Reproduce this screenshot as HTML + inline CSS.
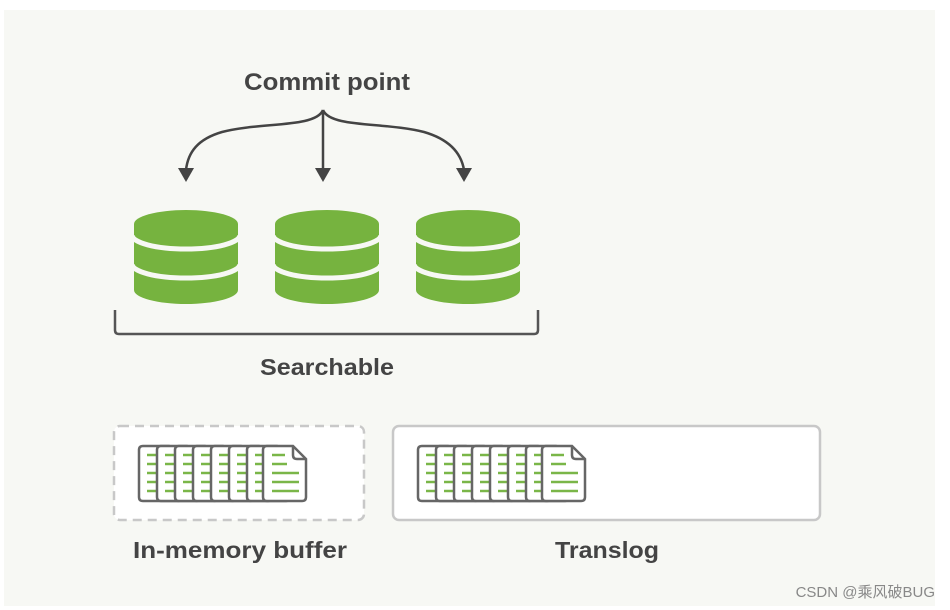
<!DOCTYPE html>
<html><head><meta charset="utf-8"><style>
html,body{margin:0;padding:0;background:#fff;}
svg{display:block;}
text{font-family:"Liberation Sans","Noto Sans CJK SC",sans-serif;}
</style></head><body>
<svg width="950" height="610" viewBox="0 0 950 610" xmlns="http://www.w3.org/2000/svg">
<defs>
<g id="doc">
<path d="M4,0 H30 L43,13 V51 Q43,55 39,55 H4 Q0,55 0,51 V4 Q0,0 4,0 Z" fill="#fff" stroke="#666" stroke-width="2.5"/>
<g stroke="#7ab648" stroke-width="2.5"><line x1="8" y1="9" x2="20" y2="9"/><line x1="8" y1="18" x2="20" y2="18"/><line x1="8" y1="27" x2="20" y2="27"/><line x1="8" y1="36" x2="20" y2="36"/><line x1="8" y1="45" x2="20" y2="45"/></g>
</g>
<g id="last">
<path d="M4,0 H30 L43,13 V51 Q43,55 39,55 H4 Q0,55 0,51 V4 Q0,0 4,0 Z" fill="#fff" stroke="#666" stroke-width="2.5"/>
<path d="M30,0 V9 Q30,13 34,13 H43" fill="none" stroke="#666" stroke-width="2.5"/>
<g stroke="#7ab648" stroke-width="2.5"><line x1="9" y1="9" x2="22" y2="9"/><line x1="9" y1="18" x2="24" y2="18"/><line x1="9" y1="27" x2="36" y2="27"/><line x1="9" y1="36" x2="36" y2="36"/><line x1="9" y1="45" x2="36" y2="45"/></g>
</g>
<g id="cyl">
<path d="M-52,224 A52,14 0 0 1 52,224 V290 A52,14 0 0 1 -52,290 Z" fill="#76b33f"/>
<path d="M-54,235 A54,14 0 0 0 54,235" fill="none" stroke="#f7f8f4" stroke-width="5"/>
<path d="M-54,264 A54,14 0 0 0 54,264" fill="none" stroke="#f7f8f4" stroke-width="5"/>
</g>
</defs>
<rect x="4" y="10" width="931" height="596" fill="#f7f8f4"/>
<text x="327" y="90" text-anchor="middle" font-size="24" font-weight="bold" fill="#444" textLength="166" lengthAdjust="spacingAndGlyphs">Commit point</text>
<g stroke="#444" stroke-width="2.5" fill="none">
<path d="M323,110 C316,128 260,122 222,132 C198,139 188,152 186,170"/>
<path d="M323,110 V170"/>
<path d="M323,110 C330,128 386,122 424,132 C448,139 461,152 464,170"/>
</g>
<g fill="#444">
<path d="M178,168 L194,168 L186,182 Z"/>
<path d="M315,168 L331,168 L323,182 Z"/>
<path d="M456,168 L472,168 L464,182 Z"/>
</g>
<use href="#cyl" x="186"/>
<use href="#cyl" x="327"/>
<use href="#cyl" x="468"/>
<path d="M115,310 V330 Q115,334 119,334 H534 Q538,334 538,330 V310" fill="none" stroke="#555" stroke-width="2.5"/>
<text x="327" y="375" text-anchor="middle" font-size="23" font-weight="bold" fill="#444" textLength="134" lengthAdjust="spacingAndGlyphs">Searchable</text>
<rect x="114" y="426" width="250" height="94" rx="6" fill="#fff" stroke="#c8c8c8" stroke-width="2.5" stroke-dasharray="9,6"/>
<rect x="393" y="426" width="427" height="94" rx="6" fill="#fff" stroke="#c8c8c8" stroke-width="2.5"/>
<use href="#doc" x="139" y="446"/><use href="#doc" x="157" y="446"/><use href="#doc" x="175" y="446"/><use href="#doc" x="193" y="446"/><use href="#doc" x="211" y="446"/><use href="#doc" x="229" y="446"/><use href="#doc" x="247" y="446"/><use href="#last" x="263" y="446"/>
<use href="#doc" x="418" y="446"/><use href="#doc" x="436" y="446"/><use href="#doc" x="454" y="446"/><use href="#doc" x="472" y="446"/><use href="#doc" x="490" y="446"/><use href="#doc" x="508" y="446"/><use href="#doc" x="526" y="446"/><use href="#last" x="542" y="446"/>
<text x="240" y="558" text-anchor="middle" font-size="23" font-weight="bold" fill="#444" textLength="214" lengthAdjust="spacingAndGlyphs">In-memory buffer</text>
<text x="607" y="558" text-anchor="middle" font-size="23" font-weight="bold" fill="#444" textLength="104" lengthAdjust="spacingAndGlyphs">Translog</text>
<text x="935" y="597" text-anchor="end" font-size="15" fill="#888">CSDN @乘风破BUG</text>
</svg>
</body></html>
